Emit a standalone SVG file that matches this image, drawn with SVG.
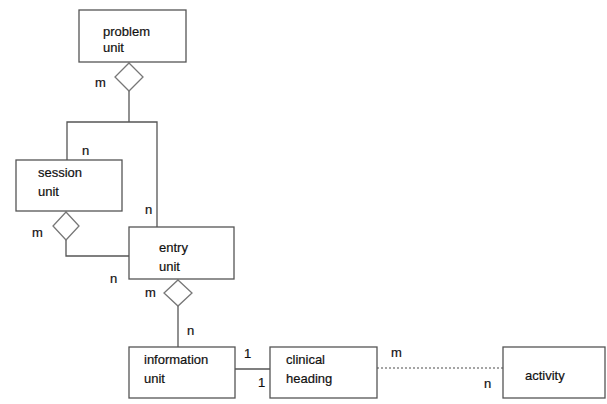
<svg xmlns="http://www.w3.org/2000/svg" width="607" height="404" viewBox="0 0 607 404">
<style>
.box{fill:#fff;stroke:#555;stroke-width:1.3}
.ln{fill:none;stroke:#555;stroke-width:1.3}
.dia{fill:#fff;stroke:#777;stroke-width:1.3}
.dot{fill:none;stroke:#888;stroke-width:1.5;stroke-dasharray:2 2}
text{font-family:"Liberation Sans",Arial,sans-serif;font-size:13px;fill:#111;stroke:#111;stroke-width:0.2}
</style>
<rect width="607" height="404" fill="#fff"/>
<g id="connectors">
<polyline class="ln" points="129,91 129,122"/>
<polyline class="ln" points="67,160 67,122 157,122 157,227"/>
<polyline class="ln" points="66,240 66,256 129,256"/>
<polyline class="ln" points="178,306 178,347"/>
<polyline class="ln" points="235,369 270,369"/>
<polyline class="dot" points="377,368 503,368"/>
<polygon class="dia" points="129,63 143,77 129,91 115,77"/>
<polygon class="dia" points="66,212 79,226 66,240 53,226"/>
<polygon class="dia" points="178,280 192,293 178,306 164,293"/>
<text x="95" y="87">m</text>
<text x="82" y="155">n</text>
<text x="145" y="214">n</text>
<text x="32" y="237">m</text>
<text x="110" y="283">n</text>
<text x="145" y="297">m</text>
<text x="187" y="335">n</text>
<text x="244" y="358">1</text>
<text x="258" y="387">1</text>
<text x="391" y="357">m</text>
<text x="484" y="388">n</text>
</g>
<g id="problem-unit">
<rect class="box" x="79" y="10" width="107" height="52"/>
<text x="103" y="36">problem</text>
<text x="103" y="52">unit</text>
</g>
<g id="session-unit">
<rect class="box" x="16" y="160" width="106" height="51"/>
<text x="38" y="177">session</text>
<text x="38" y="196">unit</text>
</g>
<g id="entry-unit">
<rect class="box" x="129" y="227" width="105" height="52"/>
<text x="159" y="252">entry</text>
<text x="159" y="271">unit</text>
</g>
<g id="information-unit">
<rect class="box" x="129" y="347" width="106" height="51"/>
<text x="144" y="364">information</text>
<text x="144" y="383">unit</text>
</g>
<g id="clinical-heading">
<rect class="box" x="270" y="347" width="107" height="51"/>
<text x="286" y="364">clinical</text>
<text x="286" y="383">heading</text>
</g>
<g id="activity">
<rect class="box" x="503" y="347" width="102" height="51"/>
<text x="525" y="380">activity</text>
</g>
</svg>
